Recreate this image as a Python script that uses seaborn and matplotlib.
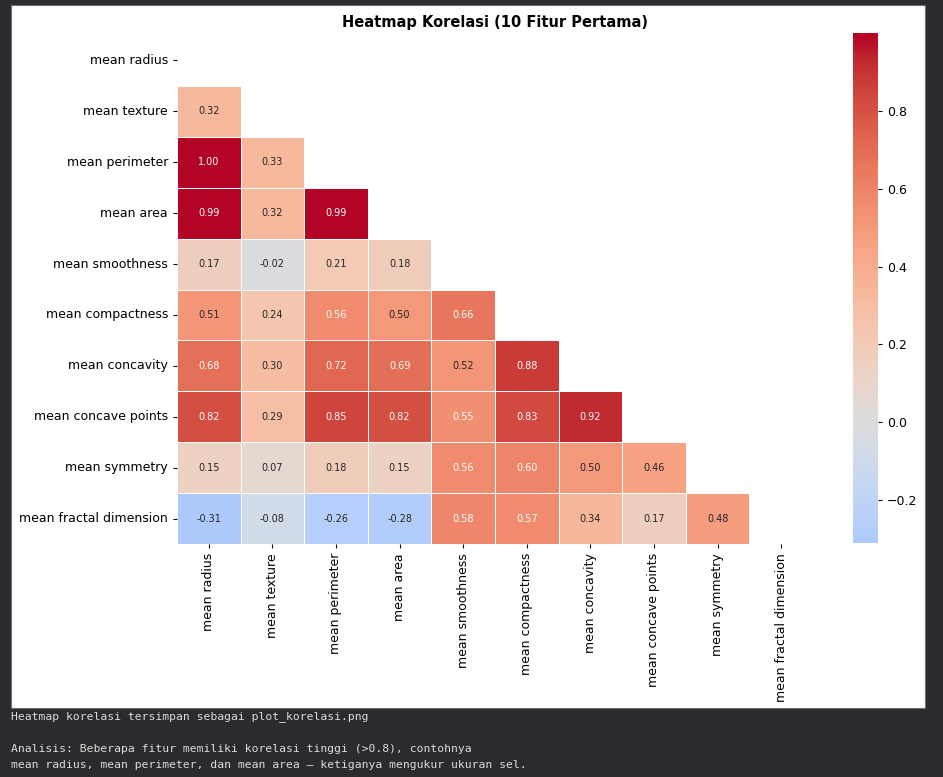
import numpy as np
import pandas as pd
import matplotlib
matplotlib.use("Agg")
import matplotlib.pyplot as plt
from matplotlib.patches import Rectangle
import seaborn as sns

# -------------------------------
# 1. Data (correlation values, lower triangle)
# -------------------------------
features = ["mean radius", "mean texture", "mean perimeter", "mean area",
            "mean smoothness", "mean compactness", "mean concavity",
            "mean concave points", "mean symmetry", "mean fractal dimension"]

row_texture = [0.32]
row_perimeter = [1.00, 0.33]
row_area = [0.99, 0.32, 0.99]
row_smoothness = [0.17, -0.02, 0.21, 0.18]
row_compactness = [0.51, 0.24, 0.56, 0.50, 0.66]
row_concavity = [0.68, 0.30, 0.72, 0.69, 0.52, 0.88]
row_concave_points = [0.82, 0.29, 0.85, 0.82, 0.55, 0.83, 0.92]
row_symmetry = [0.15, 0.07, 0.18, 0.15, 0.56, 0.60, 0.50, 0.46]
row_fractal = [-0.31, -0.08, -0.26, -0.28, 0.58, 0.57, 0.34, 0.17, 0.48]

lower_rows = [[], row_texture, row_perimeter, row_area, row_smoothness,
              row_compactness, row_concavity, row_concave_points,
              row_symmetry, row_fractal]

output_lines = [
    "Heatmap korelasi tersimpan sebagai plot_korelasi.png",
    "Analisis: Beberapa fitur memiliki korelasi tinggi (>0.8), contohnya",
    "mean radius, mean perimeter, dan mean area \u2014 ketiganya mengukur ukuran sel.",
]

# build symmetric matrix
n = len(features)
mat = np.eye(n)
for i, row in enumerate(lower_rows):
    for j, v in enumerate(row):
        mat[i, j] = v
        mat[j, i] = v
corr = pd.DataFrame(mat, index=features, columns=features)
mask = np.triu(np.ones_like(mat, dtype=bool))

# -------------------------------
# 2. Figure (notebook-like screenshot)
# -------------------------------
W, H = 943, 777
fig = plt.figure(figsize=(W / 100, H / 100), dpi=100, facecolor="#2a2b2e")

# white output cell (behind everything)
fig.patches.append(Rectangle((11 / W, 1 - 708 / H), 914 / W, 703 / H,
                             transform=fig.transFigure, facecolor="white",
                             edgecolor="#6e6e6e", linewidth=0.8, zorder=-10))

ax = fig.add_axes([177 / W, 1 - 544 / H, 636 / W, 509 / H])
cax = fig.add_axes([853 / W, 1 - 543 / H, 25 / W, 510 / H])

sns.heatmap(corr, mask=mask, cmap="coolwarm", center=0, annot=True,
            fmt=".2f", annot_kws={"size": 7}, linewidths=0.5,
            linecolor="white", ax=ax, cbar_ax=cax)

ax.set_title("Heatmap Korelasi (10 Fitur Pertama)", fontsize=10.5,
             fontweight="bold", pad=6)
ax.set_xticklabels(features, rotation=90, fontsize=9)
ax.set_yticklabels(features, rotation=0, fontsize=9)
ax.tick_params(length=3)
cax.tick_params(labelsize=9, length=3)
cax.set_yticks([-0.2, 0.0, 0.2, 0.4, 0.6, 0.8])

# printed output below the figure
ys = [716.5, 749, 765]
for line, y in zip(output_lines, ys):
    fig.text(11 / W, 1 - y / H, line, family="DejaVu Sans Mono",
             fontsize=8.2, color="#dcdcdc", va="center", ha="left")

plt.savefig("out.png", dpi=100, facecolor=fig.get_facecolor())
